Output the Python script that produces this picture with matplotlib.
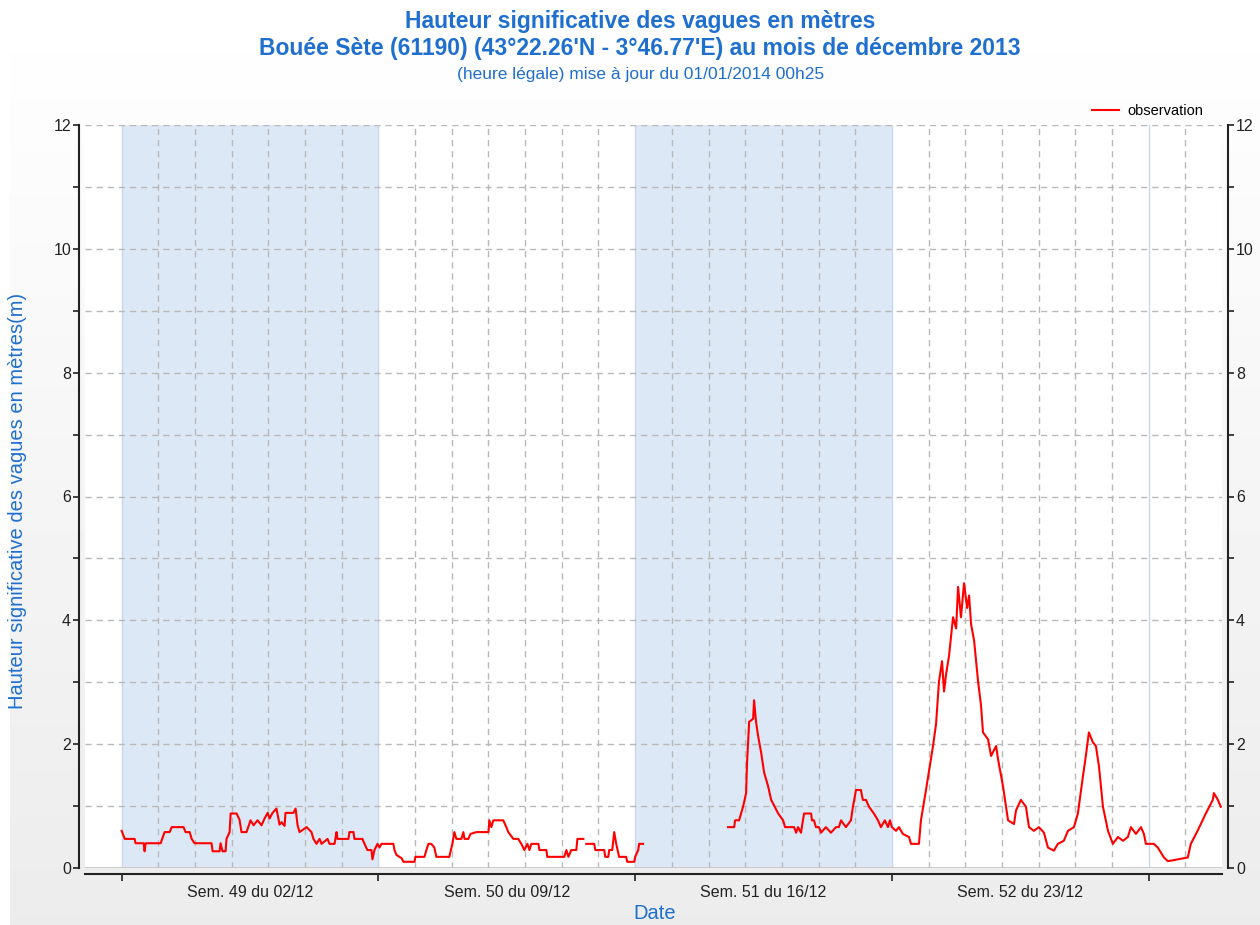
import numpy as np
import matplotlib
matplotlib.use("Agg")
import matplotlib.pyplot as plt

plt.rcParams['font.family'] = ['Liberation Sans', 'DejaVu Sans']

# observation series: hours since 1 Dec 2013 00:00, significant wave height (m)
# nan marks a break in the record
obs_hours = [
    24.0, 26.0, 32.5, 33.1, 38.4, 39.0, 39.7, 49.5, 52.1, 55.4, 56.7, 64.5,
    65.8, 68.5, 69.8, 71.7, 82.8, 83.5, 88.1, 88.7, 90.0, 92.0, 92.6, 94.6,
    95.3, 99.2, 101.1, 102.4, 105.7, 108.3, 110.3, 112.9, 115.5, 117.5, 119.5,
    120.8, 122.7, 125.3, 127.3, 128.6, 130.6, 131.2, 136.4, 137.8, 139.1,
    140.4, 145.0, 148.2, 149.5, 151.5, 153.5, 154.8, 158.7, 160.0, 163.3,
    164.6, 165.2, 172.4, 173.0, 175.7, 176.3, 181.5, 182.9, 184.8, 187.4,
    188.1, 189.4, 191.4, 192.7, 194.0, 201.8, 202.5, 203.8, 207.1, 208.4,
    215.6, 216.2, 222.1, 223.4, 224.7, 226.6, 228.6, 229.9, 238.4, 240.4,
    241.7, 243.0, 246.3, 247.6, 248.3, 250.9, 252.2, 256.1, 264.0, 264.6,
    265.9, 267.2, 273.7, 275.7, 277.0, 280.3, 283.5, 285.5, 287.5, 289.5,
    290.8, 292.1, 296.7, 297.3, 301.9, 302.5, 313.6, 315.0, 316.3, 318.2,
    321.5, 322.2, 326.1, 327.0, 328.0, 333.2, 333.9, 339.8, 340.4, 342.4,
    343.0, 345.0, 346.3, 347.6, 349.5, 354.1, 354.8, 359.4, 360.0, 362.0,
    362.6, 365.2, 390.0,
    420.8, 424.8, 425.4, 428.0, 430.6, 432.6, 433.2, 434.6, 437.2, 437.8,
    439.1, 440.4, 442.4, 444.4, 447.0, 449.0, 453.6, 456.8, 458.1, 464.0,
    465.3, 466.6, 468.5, 469.8, 470.5, 475.1, 475.7, 477.0, 478.3, 480.3,
    481.6, 484.8, 488.1, 491.4, 493.3, 494.7, 497.9, 501.2, 502.5, 504.5,
    507.7, 509.0, 511.0, 513.0, 516.2, 518.9, 520.8, 523.4, 525.4, 526.7,
    528.0, 530.7, 532.6, 535.2, 539.2, 540.5, 545.7, 547.0, 550.3, 554.9,
    556.9, 558.8, 560.8, 562.1, 563.4, 565.4, 568.0, 570.0, 571.3, 573.2,
    575.2, 577.2, 578.5, 579.8, 581.8, 584.4, 586.3, 587.6, 590.9, 592.9,
    596.2, 597.5, 600.7, 604.0, 607.9, 609.2, 612.4, 615.7, 617.7, 620.9,
    624.2, 627.5, 630.1, 634.0, 636.6, 640.5, 643.2, 647.1, 649.7, 653.0,
    654.9, 656.9, 659.5, 661.5, 663.5, 666.1, 669.4, 672.6, 675.9, 679.2,
    682.4, 684.4, 687.7, 691.0, 692.9, 694.2, 699.4, 702.0, 706.0, 708.6,
    721.6, 723.6, 728.2, 733.4, 738.0, 738.7, 741.3, 743.2,
]
obs_hs = [
    0.60, 0.47, 0.47, 0.40, 0.40, 0.27, 0.40, 0.40, 0.58, 0.58, 0.66, 0.66,
    0.58, 0.58, 0.47, 0.40, 0.40, 0.27, 0.27, 0.40, 0.27, 0.27, 0.47, 0.58,
    0.88, 0.88, 0.78, 0.58, 0.58, 0.77, 0.69, 0.77, 0.69, 0.80, 0.89,
    0.80, 0.89, 0.96, 0.70, 0.74, 0.68, 0.89, 0.89, 0.96, 0.69,
    0.58, 0.66, 0.58, 0.47, 0.39, 0.47, 0.39, 0.47, 0.39, 0.39,
    0.58, 0.47, 0.47, 0.58, 0.58, 0.47, 0.47, 0.39, 0.29, 0.29,
    0.14, 0.29, 0.39, 0.33, 0.39, 0.39, 0.29, 0.21, 0.16, 0.10,
    0.10, 0.18, 0.18, 0.29, 0.39, 0.39, 0.33, 0.18, 0.18, 0.39,
    0.58, 0.47, 0.47, 0.58, 0.47, 0.47, 0.55, 0.58, 0.58, 0.77,
    0.66, 0.77, 0.77, 0.66, 0.58, 0.47, 0.47, 0.39, 0.29, 0.39,
    0.29, 0.39, 0.39, 0.29, 0.29, 0.18, 0.18, 0.29, 0.18, 0.29,
    0.29, 0.47, 0.47, np.nan, 0.39, 0.39, 0.29, 0.29, 0.18, 0.18,
    0.29, 0.29, 0.58, 0.39, 0.18, 0.18, 0.10, 0.10, 0.18, 0.29,
    0.39, 0.39, np.nan,
    0.66, 0.66, 0.77, 0.77, 0.99, 1.21, 1.70, 2.36, 2.41, 2.71,
    2.36, 2.14, 1.87, 1.54, 1.32, 1.10, 0.88, 0.77, 0.66, 0.66,
    0.57, 0.66, 0.57, 0.77, 0.88, 0.88, 0.77, 0.77, 0.66, 0.66,
    0.57, 0.66, 0.57, 0.66, 0.66, 0.77, 0.66, 0.77, 0.99, 1.26,
    1.26, 1.10, 1.10, 0.99, 0.88, 0.77, 0.66, 0.77, 0.66, 0.77,
    0.66, 0.60, 0.66, 0.55, 0.50, 0.39, 0.39, 0.77, 1.26, 1.97,
    2.33, 3.01, 3.34, 2.85, 3.12, 3.43, 4.05, 3.87, 4.54, 4.05,
    4.60, 4.20, 4.40, 3.94, 3.67, 3.01, 2.63, 2.19, 2.08, 1.81,
    1.97, 1.75, 1.32, 0.77, 0.71, 0.93, 1.10, 0.99, 0.66, 0.60,
    0.66, 0.57, 0.33, 0.28, 0.39, 0.44, 0.60, 0.66, 0.88, 1.48,
    1.81, 2.19, 2.03, 1.97, 1.64, 0.99, 0.60, 0.39, 0.50, 0.44,
    0.50, 0.66, 0.55, 0.66, 0.55, 0.39, 0.39, 0.33, 0.17, 0.11,
    0.17, 0.39, 0.61, 0.88, 1.10, 1.21, 1.10, 0.99,
]

week_starts = [24, 192, 360, 528, 696]        # Mondays 02/12 ... 30/12, in hours
week_labels = ["Sem. 49 du 02/12", "Sem. 50 du 09/12",
               "Sem. 51 du 16/12", "Sem. 52 du 23/12"]
shaded_weeks = [(24, 192), (360, 528)]

blue = "#1f6fce"
grid_grey = "#b8b8b8"

fig = plt.figure(figsize=(12.6, 9.25), dpi=100)
fig.patch.set_facecolor("white")

# soft white -> grey background behind everything
bg = fig.add_axes([10 / 1260, 0, 1, 1], zorder=-10)
grad = np.linspace(1.0, 0.925, 256).reshape(-1, 1)
bg.imshow(grad, aspect="auto", cmap="gray", vmin=0, vmax=1, extent=(0, 1, 0, 1))
bg.axis("off")

ax = fig.add_axes([85 / 1260, 57 / 925, 1137 / 1260, 743 / 925])
ax.set_facecolor("white")
ax.set_xlim(0, 744)
ax.set_ylim(0, 12)

for a, b in shaded_weeks:
    ax.axvspan(a, b, color="#dde8f6", lw=0, zorder=0)

# daily dashed grid, light blue solid line on week boundaries
for h in range(24, 744, 24):
    if h in week_starts:
        ax.axvline(h, color="#c5d8ef", lw=1, zorder=1)
    else:
        ax.axvline(h, color=grid_grey, lw=1, dashes=(4.5, 3.5), zorder=1)
for v in range(1, 13):
    ax.axhline(v, color=grid_grey, lw=1, dashes=(4.5, 3.5), zorder=1)
ax.axhline(0, color="#c8c8c8", lw=2, zorder=1)

hrs = np.array(obs_hours, dtype=float)
hs = np.array(obs_hs, dtype=float)
ax.plot(hrs, hs, color="#ff0000", lw=1.5, label="observation", zorder=3)

for side in ["left", "right", "bottom"]:
    ax.spines[side].set_position(("outward", 4))
    ax.spines[side].set_color("#222222")
    ax.spines[side].set_linewidth(1.5)
ax.spines["top"].set_visible(False)

ax.set_yticks(range(0, 13, 2))
ax.set_yticks(range(1, 13, 2), minor=True)
ax.tick_params(axis="y", which="both", direction="out", length=4, width=1.2,
               left=True, right=True, labelleft=True, labelright=True,
               labelsize=11.5, pad=2, colors="#222222")

ax.set_xticks(week_starts)
ax.set_xticklabels([""] * len(week_starts))
ax.set_xticks([s + 84 for s in week_starts[:-1]], minor=True)
ax.set_xticklabels(week_labels, minor=True)
ax.tick_params(axis="x", which="major", direction="out", length=5, width=1.2,
               colors="#222222")
ax.tick_params(axis="x", which="minor", length=0, labelsize=11.5, pad=8,
               labelcolor="#222222")

ax.set_xlabel("Date", color=blue, fontsize=14.5, va="center")
ax.xaxis.set_label_coords(0.501, -0.0606)
ax.set_ylabel("Hauteur significative des vagues en mètres(m)", color=blue,
              fontsize=14.5, va="center")
ax.yaxis.set_label_coords(-0.0598, 0.494)

ax.legend(loc="lower right", bbox_to_anchor=(0.99, 1.0), frameon=False,
          fontsize=10.5, handlelength=1.8, handletextpad=0.6, borderaxespad=0.1)

fig.text(0.508, 0.977, "Hauteur significative des vagues en mètres",
         ha="center", va="center", color=blue, fontsize=16.5, fontweight="bold")
fig.text(0.508, 0.948, "Bouée Sète (61190) (43°22.26'N - 3°46.77'E) au mois de décembre 2013",
         ha="center", va="center", color=blue, fontsize=16.5, fontweight="bold")
fig.text(0.508, 0.919, "(heure légale) mise à jour du 01/01/2014 00h25",
         ha="center", va="center", color=blue, fontsize=12.5)

fig.savefig("out.png", dpi=100)
